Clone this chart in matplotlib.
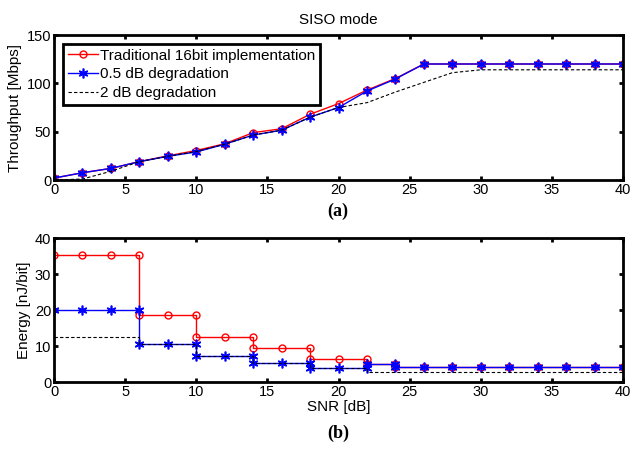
import matplotlib
matplotlib.use('Agg')
import matplotlib.pyplot as plt

plt.rcParams['font.family'] = ['Liberation Sans', 'DejaVu Sans']

# throughput vs SNR
snr = [0, 2, 4, 6, 8, 10, 12, 14, 16, 18, 20, 22, 24, 26, 28, 30, 32, 34, 36, 38, 40]
tp_trad = [2, 7.5, 12, 19, 25, 30.5, 37.5, 49, 53, 68, 79, 93, 105, 120, 120, 120, 120, 120, 120, 120, 120]
tp_05db = [2, 7.5, 12, 19, 24.5, 29, 37, 46.5, 51.5, 65, 75, 92, 104.5, 120, 120, 120, 120, 120, 120, 120, 120]
tp_2db = [0, 1, 9, 19, 24.5, 29.5, 37, 46.5, 51.5, 65, 75, 80, 91, 101, 111, 114, 114, 114, 114, 114, 114]

# energy per bit (step curves, repeated x at each jump)
snr_e = [0, 2, 4, 6, 6, 8, 10, 10, 12, 14, 14, 16, 18, 18, 20, 22, 22, 24, 24,
         26, 28, 30, 32, 34, 36, 38, 40]
en_trad = [35.3, 35.3, 35.3, 35.3, 18.7, 18.7, 18.7, 12.4, 12.4, 12.4, 9.4, 9.4, 9.4,
           6.3, 6.3, 6.3, 4.9, 4.9, 4.2, 4.2, 4.2, 4.2, 4.2, 4.2, 4.2, 4.2, 4.2]
en_05db = [20.1, 20.1, 20.1, 20.1, 10.5, 10.5, 10.5, 7.1, 7.1, 7.1, 5.4, 5.4, 5.4,
           3.8, 3.8, 3.8, 4.9, 4.9, 4.2, 4.2, 4.2, 4.2, 4.2, 4.2, 4.2, 4.2, 4.2]
en_2db = [12.6, 12.6, 12.6, 12.6, 10.5, 10.5, 10.5, 7.1, 7.1, 7.1, 5.4, 5.4, 5.4,
          3.8, 3.8, 3.8, 2.9, 2.9, 2.7, 2.7, 2.7, 2.7, 2.7, 2.7, 2.7, 2.7, 2.7]

labels = ['Traditional 16bit implementation', '0.5 dB degradation', '2 dB degradation']

fig = plt.figure(figsize=(6.33, 4.57), dpi=100)
ax1 = fig.add_axes([54 / 633, 1 - 180 / 457, 569 / 633, 145 / 457])
ax2 = fig.add_axes([54 / 633, 1 - 382 / 457, 569 / 633, 144 / 457])

asterisk = (6, 2, 0)


def style(ax):
    for s in ax.spines.values():
        s.set_linewidth(2)
    ax.tick_params(direction='in', top=True, right=True, width=2, length=3,
                   labelsize=10.5, pad=2)


ax1.plot(snr, tp_trad, color='#ff0000', marker='o', mfc='none', ms=5, lw=1, label=labels[0])
ax1.plot(snr, tp_05db, color='#0000ff', marker=asterisk, ms=7, mew=1.2, lw=1, label=labels[1])
ax1.plot(snr, tp_2db, color='black', ls='--', lw=0.8, dashes=(3, 2), label=labels[2])
ax1.set_xlim(0, 40)
ax1.set_ylim(0, 150)
ax1.set_xticks(range(0, 41, 5))
ax1.set_yticks([0, 50, 100, 150])
ax1.set_ylabel('Throughput [Mbps]', fontsize=11, labelpad=3)
ax1.set_title('SISO mode', fontsize=11, pad=8)
style(ax1)
leg = ax1.legend(loc='upper left', fontsize=11, fancybox=False, framealpha=1,
                 edgecolor='black', handlelength=2.0, handletextpad=0.1,
                 borderpad=0.3, labelspacing=0.3, borderaxespad=0.6)
leg.get_frame().set_linewidth(2)

ax2.plot(snr_e, en_trad, color='#ff0000', marker='o', mfc='none', ms=5, lw=1)
ax2.plot(snr_e, en_05db, color='#0000ff', marker=asterisk, ms=7, mew=1.2, lw=1)
ax2.plot(snr_e, en_2db, color='black', ls='--', lw=0.8, dashes=(3, 2))
ax2.set_xlim(0, 40)
ax2.set_ylim(0, 40)
ax2.set_xticks(range(0, 41, 5))
ax2.set_yticks([0, 10, 20, 30, 40])
ax2.set_xlabel('SNR [dB]', fontsize=11, labelpad=1)
ax2.set_ylabel('Energy [nJ/bit]', fontsize=11, labelpad=3)
style(ax2)

fig.text(338 / 633, 1 - 211 / 457, '(a)', ha='center', va='center', fontsize=13,
         fontweight='bold', family='Liberation Serif')
fig.text(338 / 633, 1 - 433 / 457, '(b)', ha='center', va='center', fontsize=13,
         fontweight='bold', family='Liberation Serif')

fig.savefig('out.png', dpi=100)
